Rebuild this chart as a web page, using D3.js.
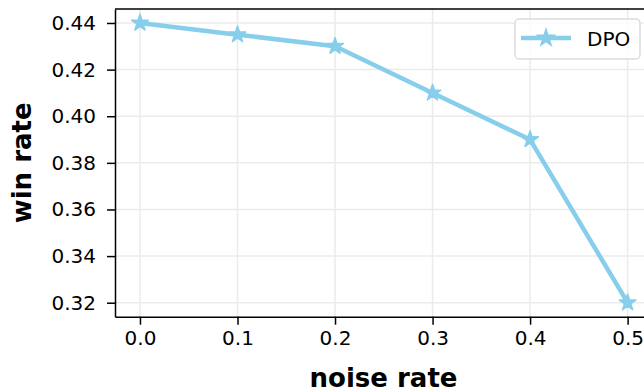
<!DOCTYPE html>
<html>
<head>
<meta charset="utf-8">
<script src="https://cdn.jsdelivr.net/npm/d3@7"></script>
<style>
  body { margin: 0; background: #fff; }
  svg { display: block; font-family: "DejaVu Sans", sans-serif; }
</style>
</head>
<body>
<div id="chart"></div>
<script>
// data
const noiseRate = [0.0, 0.1, 0.2, 0.3, 0.4, 0.5];
const dpoWinRate = [0.44, 0.435, 0.43, 0.41, 0.39, 0.32];
const xTicks = [0.0, 0.1, 0.2, 0.3, 0.4, 0.5];
const yTicks = [0.32, 0.34, 0.36, 0.38, 0.40, 0.42, 0.44];

const width = 644, height = 392;
const margin = { top: 9, bottom: 75.3, left: 115, right: -8 };
const color = '#87ceeb';

const svg = d3.select('#chart').append('svg')
  .attr('width', width)
  .attr('height', height);

const x = d3.scaleLinear()
  .domain([-0.0256, 0.525])
  .range([margin.left, width - margin.right]);

const y = d3.scaleLinear()
  .domain([0.314, 0.446])
  .range([height - margin.bottom, margin.top]);

// grid
svg.append('g')
  .selectAll('line.gx')
  .data(xTicks)
  .join('line')
  .attr('x1', d => x(d)).attr('x2', d => x(d))
  .attr('y1', y(0.314)).attr('y2', y(0.446))
  .attr('stroke', '#ebebeb').attr('stroke-width', 1.5);

svg.append('g')
  .selectAll('line.gy')
  .data(yTicks)
  .join('line')
  .attr('x1', x(-0.0256)).attr('x2', x(0.525))
  .attr('y1', d => y(d)).attr('y2', d => y(d))
  .attr('stroke', '#ebebeb').attr('stroke-width', 1.5);

// axes
function xAxis(g) {
  g.attr('transform', `translate(0,${y(0.314)})`)
    .call(d3.axisBottom(x).tickValues(xTicks).tickFormat(d3.format('.1f'))
      .tickSizeInner(8).tickSizeOuter(0).tickPadding(6))
    .attr('font-size', '20px')
    .attr('font-family', '"DejaVu Sans", sans-serif');
  g.select('.domain').attr('stroke', '#000').attr('stroke-width', 1.5);
  g.selectAll('.tick line').attr('stroke', '#000').attr('stroke-width', 1.5);
  g.selectAll('.tick text').attr('fill', '#000');
}

function yAxis(g) {
  g.attr('transform', `translate(${x(-0.0256)},0)`)
    .call(d3.axisLeft(y).tickValues(yTicks).tickFormat(d3.format('.2f'))
      .tickSizeInner(8).tickSizeOuter(0).tickPadding(11))
    .attr('font-size', '20px')
    .attr('font-family', '"DejaVu Sans", sans-serif');
  g.select('.domain').attr('stroke', '#000').attr('stroke-width', 1.5);
  g.selectAll('.tick line').attr('stroke', '#000').attr('stroke-width', 1.5);
  g.selectAll('.tick text').attr('fill', '#000');
}

svg.append('g').call(xAxis);
svg.append('g').call(yAxis);

// top spine
svg.append('line')
  .attr('x1', x(-0.0256)).attr('x2', x(0.525))
  .attr('y1', y(0.446)).attr('y2', y(0.446))
  .attr('stroke', '#000').attr('stroke-width', 1.5);

// series
const line = d3.line()
  .x((d, i) => x(noiseRate[i]))
  .y(d => y(d));

svg.append('path')
  .datum(dpoWinRate)
  .attr('d', line)
  .attr('fill', 'none')
  .attr('stroke', color)
  .attr('stroke-width', 4.5)
  .attr('stroke-linejoin', 'round');

const star = d3.symbol().type(d3.symbolStar).size(85);

svg.append('g')
  .selectAll('path')
  .data(dpoWinRate)
  .join('path')
  .attr('d', star)
  .attr('transform', (d, i) => `translate(${x(noiseRate[i])},${y(d)})`)
  .attr('fill', color)
  .attr('stroke', color)
  .attr('stroke-width', 1.5)
  .attr('stroke-linejoin', 'round');

// legend
const legend = svg.append('g').attr('transform', 'translate(515,19)');
legend.append('rect')
  .attr('width', 125).attr('height', 40)
  .attr('rx', 4)
  .attr('fill', '#fff').attr('fill-opacity', 0.8)
  .attr('stroke', '#dcdcdc').attr('stroke-width', 1.5);
legend.append('line')
  .attr('x1', 6).attr('x2', 56)
  .attr('y1', 19).attr('y2', 19)
  .attr('stroke', color).attr('stroke-width', 4.5);
legend.append('path')
  .attr('d', star)
  .attr('transform', 'translate(31,19)')
  .attr('fill', color).attr('stroke', color).attr('stroke-width', 1.5);
legend.append('text')
  .attr('x', 72).attr('y', 26.5)
  .attr('font-size', '20px')
  .text('DPO');

// axis labels
svg.append('text')
  .attr('x', (x(-0.0256) + x(0.525)) / 2)
  .attr('y', 387)
  .attr('text-anchor', 'middle')
  .attr('font-size', '26px')
  .attr('font-weight', 'bold')
  .text('noise rate');

svg.append('text')
  .attr('transform', `translate(31,${(y(0.314) + y(0.446)) / 2}) rotate(-90)`)
  .attr('text-anchor', 'middle')
  .attr('font-size', '26px')
  .attr('font-weight', 'bold')
  .text('win rate');
</script>
</body>
</html>
